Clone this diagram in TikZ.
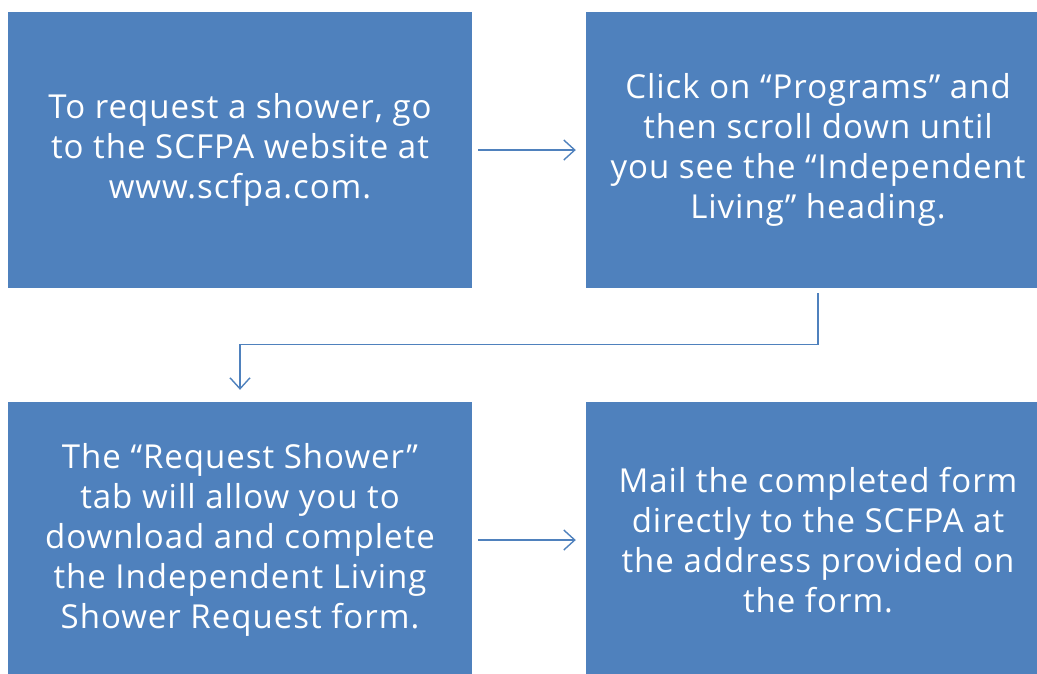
\documentclass[tikz,border=0pt]{standalone}
\usepackage{fontspec}
\setmainfont{Open Sans}
\newfontfamily\boxfont[LetterSpace=3]{Open Sans}
\usetikzlibrary{arrows.meta}
\definecolor{boxblue}{HTML}{4F81BD}
\tikzset{
  stepbox/.style={fill=boxblue, draw=none, minimum width=464pt, minimum height=276pt,
    inner sep=0pt, text=white, align=center,
    font=\boxfont\fontsize{33}{40}\selectfont},
  flow/.style={draw=boxblue, line width=1.4pt, -{Straight Barb[length=11pt,width=20pt,line width=1.4pt]}}
}
\begin{document}
\begin{tikzpicture}[x=1pt,y=-1pt]
\useasboundingbox (0,0) rectangle (1037,673);
\clip (0,0) rectangle (1037,673);
\node[stepbox] (b1) at (240,150) {To request a shower, go\\to the SCFPA website at\\www.scfpa.com.};
\node[stepbox] (b2) at (818,150) {Click on “Programs” and\\then scroll down until\\you see the “Independent\\Living” heading.};
\node[stepbox] (b3) at (240,540) {The “Request Shower”\\tab will allow you to\\download and complete\\the Independent Living\\Shower Request form.};
\node[stepbox] (b4) at (818,540) {Mail the completed form\\directly to the SCFPA at\\the address provided on\\the form.};
\draw[flow, shorten <=6pt, shorten >=10pt] (b1) -- (b2);
\draw[flow, shorten <=6pt, shorten >=10pt] (b3) -- (b4);
\draw[flow, shorten <=5pt, shorten >=12pt] (b2.south) -- ++(0,56) -| (b3.north);
\end{tikzpicture}
\end{document}
